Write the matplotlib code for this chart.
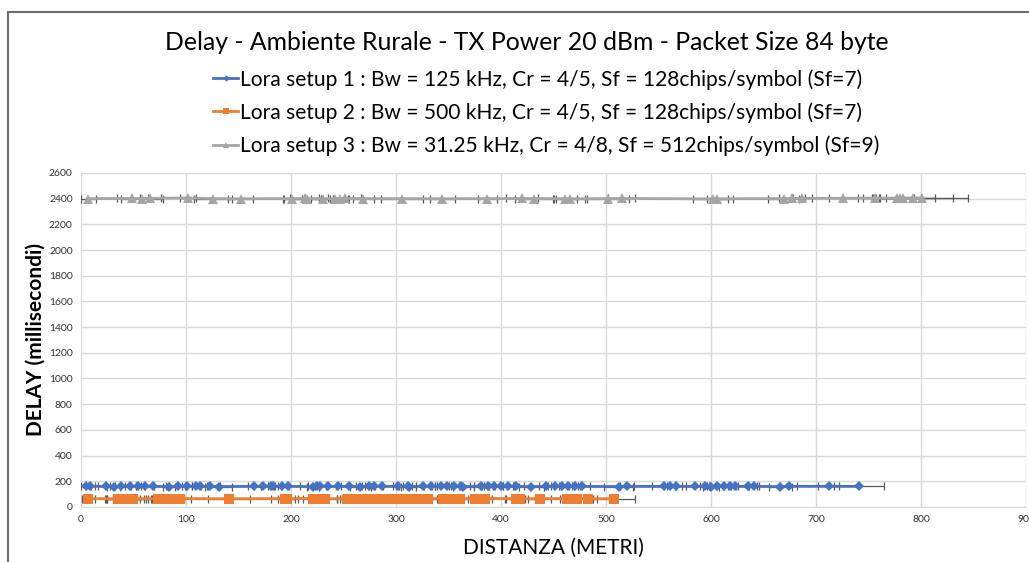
import matplotlib.pyplot as plt
from matplotlib.lines import Line2D

# Distance (m), delay (ms) and distance uncertainty (m) for each LoRa setup
dist_1 = [5, 9, 24, 31, 38, 47, 54, 61, 69, 84,
          92, 101, 110, 113, 123, 131, 165, 173, 181, 183,
          191, 197, 221, 225, 228, 235, 245, 255, 266, 274,
          279, 287, 302, 311, 312, 326, 333, 343, 349, 355,
          362, 364, 381, 388, 393, 400, 407, 414, 429, 443,
          451, 458, 464, 470, 477, 512, 520, 555, 561, 567,
          585, 594, 600, 606, 612, 618, 623, 635, 641, 666,
          674, 712, 741]
delay_1 = [160, 161, 160, 159, 160, 160, 161, 160, 160, 159,
           160, 160, 161, 160, 160, 159, 160, 160, 161, 160,
           160, 160, 159, 160, 161, 160, 160, 160, 159, 160,
           161, 160, 160, 160, 159, 160, 160, 161, 160, 160,
           160, 159, 160, 160, 161, 160, 160, 160, 159, 160,
           160, 161, 160, 160, 160, 159, 160, 160, 161, 160,
           160, 160, 159, 160, 160, 161, 160, 160, 160, 159,
           160, 161, 160]
err_1 = [5, 4, 8, 6, 10, 5, 7, 9, 12, 6,
         8, 5, 11, 7, 9, 13, 6, 8, 10, 5,
         7, 12, 6, 9, 5, 8, 11, 7, 10, 6,
         9, 13, 5, 8, 7, 11, 6, 9, 12, 5,
         8, 10, 7, 6, 9, 11, 5, 8, 12, 7,
         6, 10, 9, 5, 8, 14, 7, 11, 6, 9,
         13, 5, 8, 10, 7, 6, 12, 9, 5, 11,
         8, 10, 24]

dist_2 = [7, 35, 39, 42, 45, 48, 50, 73, 83, 91,
          94, 141, 194, 196, 221, 223, 232, 253, 261, 266,
          270, 275, 280, 283, 286, 291, 296, 301, 306, 309,
          311, 316, 321, 330, 345, 349, 353, 361, 375, 385,
          414, 418, 437, 463, 472, 483, 508]
delay_2 = [65, 64, 65, 65, 66, 65, 64, 65, 65, 66,
           65, 64, 65, 65, 66, 65, 64, 65, 65, 66,
           65, 64, 65, 65, 66, 65, 64, 65, 65, 66,
           65, 64, 65, 65, 66, 65, 64, 65, 65, 66,
           65, 64, 65, 65, 66, 65, 64]
err_2 = [6, 10, 14, 18, 22, 8, 12, 9, 15, 7,
         11, 20, 13, 8, 10, 6, 12, 9, 14, 7,
         11, 5, 8, 13, 6, 10, 9, 7, 12, 5,
         8, 11, 6, 9, 13, 7, 10, 8, 12, 6,
         9, 14, 11, 7, 10, 8, 20]

dist_3 = [7, 49, 58, 66, 102, 126, 152, 201, 213, 215,
          230, 242, 247, 251, 269, 306, 344, 387, 420, 431,
          461, 466, 502, 515, 602, 606, 669, 677, 687, 726,
          756, 777, 780, 783, 792, 801]
delay_3 = [2400, 2401, 2400, 2402, 2405, 2400, 2399, 2400, 2401, 2400,
           2400, 2399, 2400, 2401, 2400, 2400, 2399, 2400, 2401, 2400,
           2400, 2399, 2400, 2401, 2398, 2399, 2400, 2401, 2402, 2403,
           2404, 2404, 2405, 2404, 2405, 2406]
err_3 = [7, 15, 20, 10, 8, 18, 12, 9, 14, 22,
         11, 13, 7, 16, 10, 20, 12, 9, 15, 18,
         11, 14, 20, 13, 19, 10, 15, 12, 9, 14,
         11, 16, 20, 30, 38, 44]

series = [
    ('Lora setup 1 : Bw = 125 kHz, Cr = 4/5, Sf = 128chips/symbol (Sf=7)',
     dist_1, delay_1, err_1, '#4472C4', 'D', 5.5),
    ('Lora setup 2 : Bw = 500 kHz, Cr = 4/5, Sf = 128chips/symbol (Sf=7)',
     dist_2, delay_2, err_2, '#ED7D31', 's', 7.5),
    ('Lora setup 3 : Bw = 31.25 kHz, Cr = 4/8, Sf = 512chips/symbol (Sf=9)',
     dist_3, delay_3, err_3, '#A5A5A5', '^', 7),
]

plt.rcParams['font.family'] = ['Lato', 'DejaVu Sans']

fig = plt.figure(figsize=(10.29, 5.62), dpi=100)
ax = fig.add_axes([0.0787, 0.0979, 0.9185, 0.5944])

handles = []
for label, x, y, xerr, color, marker, ms in series:
    ax.errorbar(x, y, xerr=xerr, fmt='none', ecolor='#595959',
                elinewidth=0.9, capsize=2.8, capthick=0.9, zorder=2)
    ax.plot(x, y, color=color, lw=2, marker=marker, markersize=ms,
            markeredgewidth=0, zorder=3)
    handles.append(Line2D([], [], color=color, lw=2, marker=marker,
                          markersize=ms * 0.6, markeredgewidth=0,
                          label=label))

ax.set_xlim(0, 900)
ax.set_ylim(0, 2600)
ax.set_xticks(range(0, 901, 100))
ax.set_yticks(range(0, 2601, 200))
ax.grid(True, color='#D9D9D9', lw=1)
ax.set_axisbelow(True)
for side in ['top', 'right', 'left']:
    ax.spines[side].set_visible(False)
ax.spines['bottom'].set_color('#D9D9D9')
ax.tick_params(length=0, labelsize=7.5, colors='#333333', pad=6)

ax.set_xlabel('DISTANZA (METRI)', fontsize=15, labelpad=10)
ax.set_ylabel('DELAY (millisecondi)', fontsize=15, fontweight='bold',
              labelpad=2)

fig.text(0.512, 0.925, 'Delay - Ambiente Rurale - TX Power 20 dBm - Packet Size 84 byte',
         ha='center', va='center', fontsize=17.8)
fig.legend(handles=handles, loc='upper left', bbox_to_anchor=(0.197, 0.896),
           frameon=False, fontsize=15.1, handlelength=1.2, handletextpad=0.1,
           labelspacing=0.6, borderpad=0)

# chart border
fig.add_artist(Line2D([0.0075, 0.0075], [0, 0.979], color='#6E6E6E', lw=1.5))
fig.add_artist(Line2D([0.0075, 1], [0.979, 0.979], color='#6E6E6E', lw=1.5))

fig.savefig('out.png', dpi=100)
